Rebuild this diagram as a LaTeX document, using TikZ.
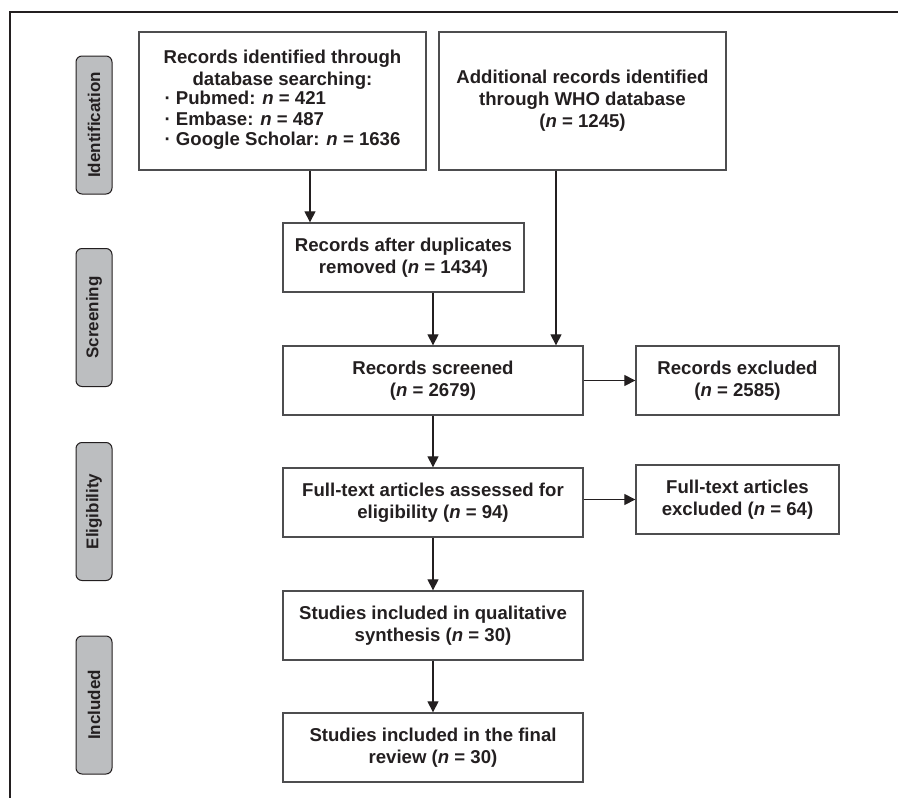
\documentclass[tikz,border=0pt]{standalone}
\usepackage{fontspec}
\setmainfont{Liberation Sans}
\usetikzlibrary{arrows.meta}

\definecolor{inkdark}{HTML}{231F20}
\definecolor{boxline}{HTML}{4D4D4F}
\definecolor{stagegray}{HTML}{BCBEC0}
\newcommand{\nn}{{\itshape n}}

\begin{document}
\begin{tikzpicture}[x=1pt, y=-1pt,
  box/.style={draw=boxline, line width=1.3pt, align=center, inner sep=0pt, text=inkdark, font=\bfseries\fontsize{18.6}{22}\selectfont},
  stage/.style={draw=inkdark, fill=stagegray, rounded corners=6pt, line width=1pt, rotate=90, inner sep=0pt, minimum width=138pt, minimum height=36pt, text=inkdark, font=\bfseries\fontsize{17}{20}\selectfont},
  arr/.style={-{Triangle[length=11pt, width=11pt]}, line width=1.1pt, draw=inkdark}]
\useasboundingbox (0,0) rectangle (898,798);
\draw[inkdark, line width=1.2pt] (898,12) -- (10,12) -- (10,798);
% stages
\node[stage] (sid) at (94,125) {Identification};
\node[stage] (ssc) at (94,317.5) {Screening};
\node[stage] (sel) at (94,511.5) {Eligibility};
\node[stage] (sin) at (94,705) {Included};
% boxes
\node[box, minimum width=287pt, minimum height=138pt] (dbs) at (282.5,101) {Records identified through\\database searching:\\[-3pt]%
  \renewcommand{\arraystretch}{0.93}\begin{tabular}[t]{@{}l@{}}\textperiodcentered{} Pubmed: \nn{} = 421\\ \textperiodcentered{} Embase: \nn{} = 487\\ \textperiodcentered{} Google Scholar: \nn{} = 1636\end{tabular}};
\node[box, minimum width=287pt, minimum height=138pt] (who) at (582.5,101) {Additional records identified\\through WHO database\\(\nn{} = 1245)};
\node[box, minimum width=241pt, minimum height=69pt] (dup) at (403.5,257.5) {Records after duplicates\\removed (\nn{} = 1434)};
\node[box, minimum width=300pt, minimum height=69pt] (scr) at (433,380.5) {Records screened\\(\nn{} = 2679)};
\node[box, minimum width=203pt, minimum height=69pt] (exc) at (737.5,380.5) {Records excluded\\(\nn{} = 2585)};
\node[box, minimum width=300pt, minimum height=69pt] (ful) at (433,502.5) {Full-text articles assessed for\\eligibility (\nn{} = 94)};
\node[box, minimum width=203pt, minimum height=69pt] (fux) at (737.5,499.5) {Full-text articles\\excluded (\nn{} = 64)};
\node[box, minimum width=300pt, minimum height=69pt] (qua) at (433,625.5) {Studies included in qualitative\\synthesis (\nn{} = 30)};
\node[box, minimum width=300pt, minimum height=69pt] (fin) at (433,747.5) {Studies included in the final\\review (\nn{} = 30)};
% arrows
\draw[arr] ([xshift=27.5pt]dbs.south) -- ([xshift=27.5pt]dbs.south |- dup.north);
\draw[arr] ([xshift=-26.5pt]who.south) -- ([xshift=-26.5pt]who.south |- scr.north);
\draw[arr] (dup.south -| scr.north) -- (scr.north);
\draw[arr] (scr.east) -- (exc.west);
\draw[arr] (scr.south) -- (ful.north);
\draw[arr] (ful.east |- fux.west) -- (fux.west);
\draw[arr] (ful.south) -- (qua.north);
\draw[arr] (qua.south) -- (fin.north);
\end{tikzpicture}
\end{document}
